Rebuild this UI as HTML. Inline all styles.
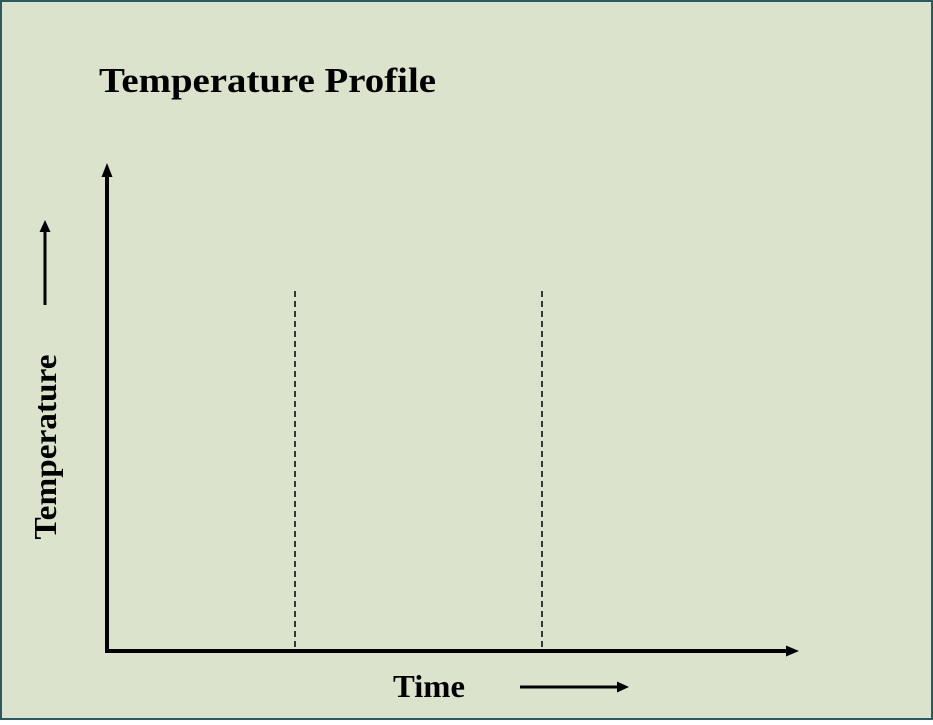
<!DOCTYPE html>
<html><head><style>
html,body{margin:0;padding:0;}
body{width:933px;height:720px;overflow:hidden;}
</style></head><body>
<svg width="933" height="720" xmlns="http://www.w3.org/2000/svg" font-family="Liberation Serif, serif" font-weight="bold">
<rect x="1" y="1" width="931" height="718" fill="#dce3cc" stroke="#2a5a60" stroke-width="2"/>
<text x="99" y="92" font-size="35" textLength="337" lengthAdjust="spacingAndGlyphs">Temperature Profile</text>
<line x1="107" y1="175" x2="107" y2="653" stroke="#000" stroke-width="4"/>
<polygon points="107,163 101.5,177 112.5,177" fill="#000"/>
<line x1="105" y1="651" x2="787" y2="651" stroke="#000" stroke-width="4"/>
<polygon points="799,651 786,645.5 786,656.5" fill="#000"/>
<line x1="295" y1="291" x2="295" y2="650" stroke="#000" stroke-width="1.5" stroke-dasharray="6,4"/>
<line x1="542" y1="291" x2="542" y2="650" stroke="#000" stroke-width="1.5" stroke-dasharray="6,4"/>
<line x1="45" y1="232" x2="45" y2="305" stroke="#000" stroke-width="3"/>
<polygon points="45,220 39.5,232 50.5,232" fill="#000"/>
<line x1="520" y1="687" x2="618" y2="687" stroke="#000" stroke-width="3"/>
<polygon points="629,687 617,681.5 617,692.5" fill="#000"/>
<text x="393" y="697" font-size="32" textLength="72" lengthAdjust="spacingAndGlyphs">Time</text>
<text transform="translate(56,447) rotate(-90)" text-anchor="middle" font-size="32" textLength="185" lengthAdjust="spacingAndGlyphs">Temperature</text>
</svg>
</body></html>
